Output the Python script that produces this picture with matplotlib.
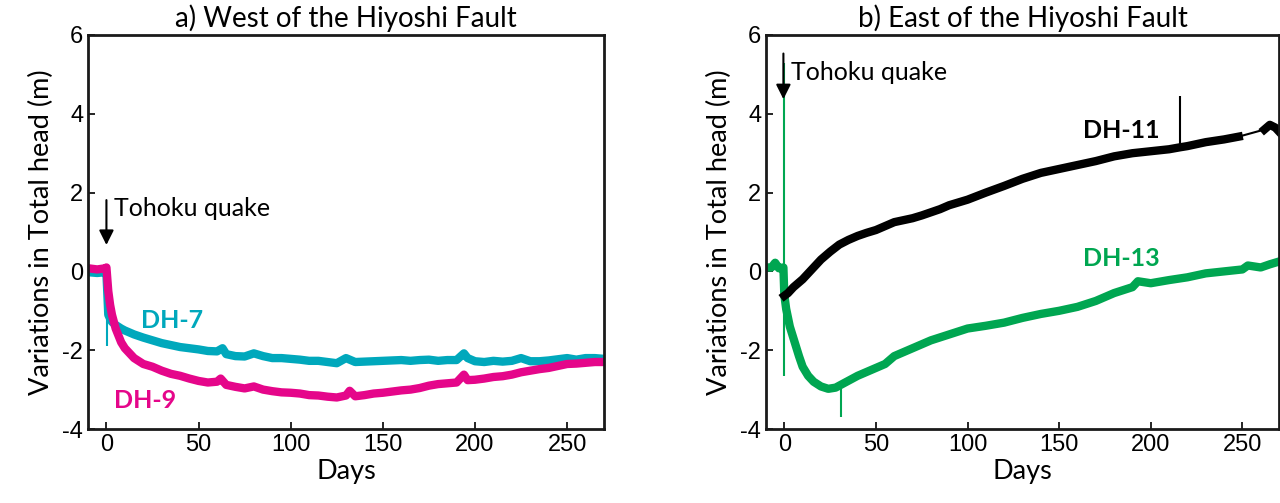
import numpy as np
import matplotlib.pyplot as plt

plt.rcParams['axes.unicode_minus'] = False

# ---- a) West of the Hiyoshi Fault ----
dh7_days = [-10, -5, -0.5, 0, 1, 2, 3, 5, 8, 10, 15, 20, 25, 30, 35, 40, 45, 50, 55, 60, 63,
            65, 70, 75, 80, 85, 90, 95, 100, 105, 110, 115, 120, 125, 130, 135, 140, 145,
            150, 155, 160, 165, 170, 175, 180, 185, 190, 194, 196, 200, 205, 210, 215, 220,
            225, 230, 235, 240, 245, 250, 255, 260, 265, 270]
dh7_vals = [-0.02, -0.04, -0.02, -0.05, -1.1, -1.2, -1.28, -1.36, -1.45, -1.5, -1.6, -1.68,
            -1.75, -1.82, -1.87, -1.92, -1.95, -1.98, -2.02, -2.03, -1.95, -2.1, -2.15, -2.16,
            -2.08, -2.15, -2.2, -2.2, -2.22, -2.24, -2.27, -2.27, -2.3, -2.33, -2.2, -2.3,
            -2.29, -2.28, -2.27, -2.26, -2.25, -2.27, -2.25, -2.24, -2.27, -2.25, -2.25, -2.08,
            -2.2, -2.28, -2.3, -2.27, -2.29, -2.27, -2.2, -2.28, -2.28, -2.26, -2.23, -2.2,
            -2.24, -2.2, -2.2, -2.22]

dh9_days = [-10, -5, -0.5, 0, 1, 2, 3, 5, 8, 10, 15, 20, 25, 30, 35, 40, 45, 50, 55, 60, 62,
            65, 70, 75, 80, 85, 90, 95, 100, 105, 110, 115, 120, 125, 130, 132, 135, 140, 145,
            150, 155, 160, 165, 170, 175, 180, 185, 190, 194, 196, 200, 205, 210, 215, 220,
            225, 230, 235, 240, 245, 250, 255, 260, 265, 270]
dh9_vals = [0.08, 0.05, 0.08, 0.1, -0.5, -0.85, -1.1, -1.45, -1.8, -1.95, -2.2, -2.35, -2.42,
            -2.52, -2.6, -2.65, -2.72, -2.78, -2.82, -2.8, -2.72, -2.88, -2.93, -2.97, -2.92,
            -3.0, -3.04, -3.07, -3.08, -3.1, -3.14, -3.15, -3.18, -3.2, -3.15, -3.03, -3.17,
            -3.14, -3.1, -3.08, -3.05, -3.02, -3.0, -2.96, -2.9, -2.86, -2.84, -2.82, -2.62,
            -2.76, -2.75, -2.72, -2.68, -2.66, -2.62, -2.56, -2.52, -2.48, -2.45, -2.4, -2.35,
            -2.34, -2.32, -2.3, -2.3]

# thin spikes: (day, low, high)
dh7_spike = (0.3, -1.9, -1.1)

# ---- b) East of the Hiyoshi Fault ----
dh11_days = [0, 2, 5, 10, 15, 20, 25, 30, 35, 40, 45, 50, 55, 60, 65, 70, 75, 80, 85, 90, 95,
             100, 110, 120, 130, 140, 150, 160, 170, 180, 190, 200, 210, 216, 220, 230, 240,
             248]
dh11_vals = [-0.62, -0.55, -0.4, -0.2, 0.05, 0.3, 0.5, 0.68, 0.8, 0.9, 0.98, 1.05, 1.15,
             1.25, 1.3, 1.35, 1.42, 1.5, 1.58, 1.68, 1.75, 1.82, 2.0, 2.17, 2.35, 2.5, 2.6,
             2.7, 2.8, 2.92, 3.0, 3.05, 3.1, 3.15, 3.18, 3.28, 3.35, 3.42]
dh11_gap_days = [248, 262]
dh11_gap_vals = [3.42, 3.6]
dh11_end_days = [262, 265, 268, 270]
dh11_end_vals = [3.6, 3.72, 3.65, 3.55]
dh11_spike = (216, 3.15, 4.45)

dh13_days = [-10, -7, -5, -3, -0.5, 0, 1, 3, 6, 8, 10, 13, 16, 20, 24, 28, 32, 36, 40, 45, 50,
             55, 60, 65, 70, 75, 80, 90, 100, 110, 120, 130, 140, 150, 160, 170, 180, 190,
             193, 200, 210, 220, 230, 240, 250, 253, 260, 265, 270]
dh13_vals = [0.1, 0.1, 0.22, 0.08, 0.1, -0.6, -0.95, -1.4, -1.85, -2.15, -2.42, -2.65, -2.8,
             -2.92, -2.98, -2.95, -2.85, -2.75, -2.65, -2.55, -2.45, -2.35, -2.15, -2.05, -1.95,
             -1.85, -1.75, -1.6, -1.45, -1.38, -1.3, -1.18, -1.08, -1.0, -0.9, -0.75, -0.55,
             -0.4, -0.25, -0.3, -0.22, -0.15, -0.05, 0.0, 0.05, 0.15, 0.1, 0.18, 0.25]
dh13_spikes = [(0, -2.65, 5.3), (31, -3.7, -2.9)]

teal = '#00a8bc'
magenta = '#e5068a'
green = '#00a651'
label_font = 'Lato'
main_lw = 6

fig = plt.figure(figsize=(12.8, 5.03), dpi=100)
ax1 = fig.add_axes([88 / 1280, 74 / 503, 516 / 1280, 394 / 503])
ax2 = fig.add_axes([766 / 1280, 74 / 503, 513 / 1280, 394 / 503])


def style_axes(ax, title):
    ax.set_xlim(-10, 270)
    ax.set_ylim(-4, 6)
    ax.set_xticks([0, 50, 100, 150, 200, 250])
    ax.set_yticks([-4, -2, 0, 2, 4, 6])
    ax.tick_params(direction='in', length=5, width=1.2, labelsize=17, top=False, right=False)
    for lab in ax.get_xticklabels() + ax.get_yticklabels():
        lab.set_family('Liberation Sans')
    for s in ax.spines.values():
        s.set_linewidth(2)
        s.set_color('#1a1a1a')
    ax.set_title(title, fontsize=20, family=label_font, pad=6)
    ax.set_xlabel('Days', fontsize=19.5, family=label_font, labelpad=2)
    ax.set_ylabel('Variations in Total head (m)', fontsize=19.5, family=label_font, labelpad=6)


# panel a
ax1.plot(dh7_days, dh7_vals, color=teal, lw=main_lw, solid_joinstyle='round')
ax1.vlines(dh7_spike[0], dh7_spike[1], dh7_spike[2], color=teal, lw=1.5)
ax1.plot(dh9_days, dh9_vals, color=magenta, lw=main_lw, solid_joinstyle='round')
ax1.annotate('', xy=(0, 0.6), xytext=(0, 1.88),
             arrowprops=dict(arrowstyle='-|>', color='black', lw=1.5, mutation_scale=22))
ax1.text(4, 1.6, 'Tohoku quake', fontsize=18, family=label_font, va='center')
ax1.text(19, -1.25, 'DH-7', fontsize=18, family=label_font, weight='bold', color=teal,
         va='center')
ax1.text(4, -3.28, 'DH-9', fontsize=18, family=label_font, weight='bold', color=magenta,
         va='center')
style_axes(ax1, 'a) West of the Hiyoshi Fault')

# panel b
for d, lo, hi in dh13_spikes:
    ax2.vlines(d, lo, hi, color=green, lw=1.5)
ax2.plot(dh13_days, dh13_vals, color=green, lw=main_lw, solid_joinstyle='round')
ax2.plot(dh11_days, dh11_vals, color='black', lw=main_lw, solid_joinstyle='round')
ax2.plot(dh11_gap_days, dh11_gap_vals, color='black', lw=1.5)
ax2.plot(dh11_end_days, dh11_end_vals, color='black', lw=main_lw, solid_joinstyle='round')
ax2.vlines(dh11_spike[0], dh11_spike[1], dh11_spike[2], color='black', lw=1.5)
ax2.annotate('', xy=(-0.5, 4.3), xytext=(-0.5, 5.6),
             arrowprops=dict(arrowstyle='-|>', color='black', lw=1.5, mutation_scale=22))
ax2.text(3.5, 5.05, 'Tohoku quake', fontsize=18, family=label_font, va='center')
ax2.text(163, 3.58, 'DH-11', fontsize=18, family=label_font, weight='bold', color='black',
         va='center')
ax2.text(163, 0.34, 'DH-13', fontsize=18, family=label_font, weight='bold', color=green,
         va='center')
style_axes(ax2, 'b) East of the Hiyoshi Fault')

fig.savefig('out.png', dpi=100)
